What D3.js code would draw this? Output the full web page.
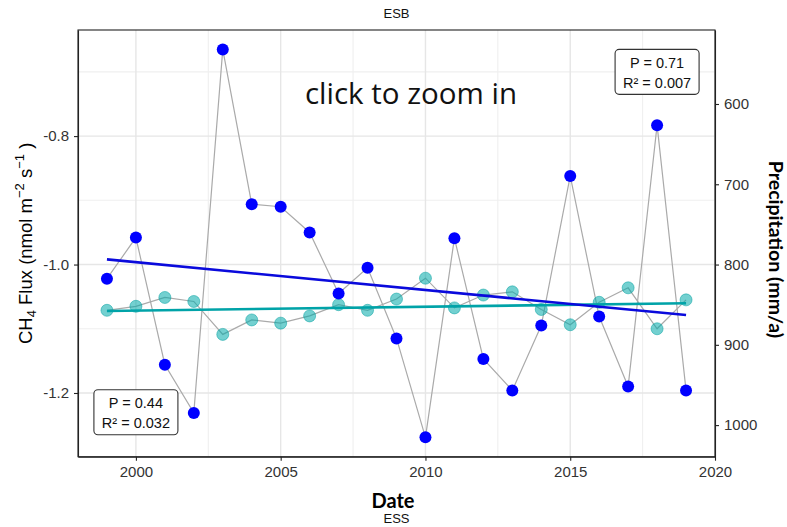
<!DOCTYPE html>
<html>
<head>
<meta charset="utf-8">
<script src="https://cdn.jsdelivr.net/npm/d3@7"></script>
<style>
  html, body { margin: 0; padding: 0; background: #fff; }
  svg { display: block; }
</style>
</head>
<body>
<svg id="chart" width="787" height="527"></svg>
<script>
// Annual series, 1999–2019
const years = [1999, 2000, 2001, 2002, 2003, 2004, 2005, 2006, 2007, 2008, 2009,
               2010, 2011, 2012, 2013, 2014, 2015, 2016, 2017, 2018, 2019];

// CH4 flux (nmol m-2 s-1), left axis
const fluxValues = [-1.022, -0.958, -1.156, -1.231, -0.665, -0.906, -0.910, -0.950, -1.045, -1.005, -1.115,
                    -1.269, -0.959, -1.147, -1.196, -1.095, -0.862, -1.081, -1.190, -0.783, -1.196];

// Precipitation (mm/a), right axis (reversed)
const precipValues = [857, 852, 841, 846, 887, 869, 873, 864, 850, 857, 843,
                      817, 854, 838, 834, 856, 875, 847, 829, 880, 844];

// Axis ticks and labels
const xTicks = [2000, 2005, 2010, 2015, 2020];
const xTickLabels = ["2000", "2005", "2010", "2015", "2020"];
const xMinorTicks = [2002.5, 2007.5, 2012.5, 2017.5];
const fluxTicks = [-0.8, -1.0, -1.2];
const fluxTickLabels = ["-0.8", "-1.0", "-1.2"];
const fluxMinorTicks = [-0.7, -0.9, -1.1];
const precipTicks = [600, 700, 800, 900, 1000];
const precipTickLabels = ["600", "700", "800", "900", "1000"];

// Regression statistics
const fluxStats = ["P = 0.44", "R\u00B2 = 0.032"];
const precipStats = ["P = 0.71", "R\u00B2 = 0.007"];
const fluxStatsAnchor = [2000, -1.23];
const precipStatsAnchor = [2018, -0.70];

// Precipitation shares the flux axis through a fixed linear factor
const precipFactor = -800;

const W = 787, H = 527;
const margin = { top: 30, right: 72, bottom: 70.3, left: 78 };
const svg = d3.select("#chart");

const x = d3.scaleLinear()
  .domain([1998, 2020])
  .range([margin.left, W - margin.right]);

const fExt = d3.extent(fluxValues);
const fPad = (fExt[1] - fExt[0]) * 0.05;
const yFlux = d3.scaleLinear()
  .domain([fExt[0] - fPad, fExt[1] + fPad])
  .range([H - margin.bottom, margin.top]);

const yPrecip = d3.scaleLinear()
  .domain(yFlux.domain().map(v => v * precipFactor))
  .range(yFlux.range());

const x0 = margin.left, x1 = W - margin.right;
const y0 = margin.top, y1 = H - margin.bottom;

// Grid
const grid = svg.append("g");
grid.selectAll("line.vmin").data(xMinorTicks).join("line")
  .attr("x1", d => x(d)).attr("x2", d => x(d)).attr("y1", y0).attr("y2", y1)
  .attr("stroke", "#EFEFEF").attr("stroke-width", 1.1);
grid.selectAll("line.hmin").data(fluxMinorTicks).join("line")
  .attr("x1", x0).attr("x2", x1).attr("y1", d => yFlux(d)).attr("y2", d => yFlux(d))
  .attr("stroke", "#EFEFEF").attr("stroke-width", 1.1);
grid.selectAll("line.vmaj").data(xTicks).join("line")
  .attr("x1", d => x(d)).attr("x2", d => x(d)).attr("y1", y0).attr("y2", y1)
  .attr("stroke", "#E6E6E6").attr("stroke-width", 1.4);
grid.selectAll("line.hmaj").data(fluxTicks).join("line")
  .attr("x1", x0).attr("x2", x1).attr("y1", d => yFlux(d)).attr("y2", d => yFlux(d))
  .attr("stroke", "#E6E6E6").attr("stroke-width", 1.4);

// Connecting lines
const fluxPts = years.map((yr, i) => [yr, fluxValues[i]]);
const precipPts = years.map((yr, i) => [yr, precipValues[i]]);

svg.append("path").datum(fluxPts)
  .attr("fill", "none").attr("stroke", "#AAAAAA").attr("stroke-width", 1.2)
  .attr("d", d3.line().x(d => x(d[0])).y(d => yFlux(d[1])));
svg.append("path").datum(precipPts)
  .attr("fill", "none").attr("stroke", "#AAAAAA").attr("stroke-width", 1.2)
  .attr("d", d3.line().x(d => x(d[0])).y(d => yPrecip(d[1])));

// Points
svg.append("g").selectAll("circle").data(precipPts).join("circle")
  .attr("cx", d => x(d[0])).attr("cy", d => yPrecip(d[1])).attr("r", 6)
  .attr("fill", "#00AAAA").attr("fill-opacity", 0.55)
  .attr("stroke", "#00A0A0").attr("stroke-opacity", 0.5).attr("stroke-width", 1);
svg.append("g").selectAll("circle").data(fluxPts).join("circle")
  .attr("cx", d => x(d[0])).attr("cy", d => yFlux(d[1])).attr("r", 6)
  .attr("fill", "#0000FF");

// Least-squares trend lines
function linFit(xs, ys) {
  const mx = d3.mean(xs), my = d3.mean(ys);
  let sxy = 0, sxx = 0;
  xs.forEach((v, i) => { sxy += (v - mx) * (ys[i] - my); sxx += (v - mx) ** 2; });
  const b = sxy / sxx;
  return v => my + b * (v - mx);
}
const xEnds = d3.extent(years);
const fFit = linFit(years, fluxValues);
const pFit = linFit(years, precipValues);

svg.append("line")
  .attr("x1", x(xEnds[0])).attr("x2", x(xEnds[1]))
  .attr("y1", yPrecip(pFit(xEnds[0]))).attr("y2", yPrecip(pFit(xEnds[1])))
  .attr("stroke", "#00A3A8").attr("stroke-width", 2.6);
svg.append("line")
  .attr("x1", x(xEnds[0])).attr("x2", x(xEnds[1]))
  .attr("y1", yFlux(fFit(xEnds[0]))).attr("y2", yFlux(fFit(xEnds[1])))
  .attr("stroke", "#0A0ADC").attr("stroke-width", 2.6);

// Panel border
svg.append("rect")
  .attr("x", x0).attr("y", y0).attr("width", x1 - x0).attr("height", y1 - y0)
  .attr("fill", "none").attr("stroke", "#222").attr("stroke-width", 1.1);

// Axes
const tickFont = "'Liberation Sans', Arial, sans-serif";
const bottom = svg.append("g").attr("transform", `translate(0,${y1})`)
  .call(d3.axisBottom(x).tickValues(xTicks).tickSize(4).tickSizeOuter(0).tickPadding(6)
    .tickFormat((d, i) => xTickLabels[i]));
const left = svg.append("g").attr("transform", `translate(${x0},0)`)
  .call(d3.axisLeft(yFlux).tickValues(fluxTicks).tickSize(4).tickSizeOuter(0).tickPadding(5)
    .tickFormat((d, i) => fluxTickLabels[i]));
const right = svg.append("g").attr("transform", `translate(${x1},0)`)
  .call(d3.axisRight(yPrecip).tickValues(precipTicks).tickSize(4).tickSizeOuter(0).tickPadding(5)
    .tickFormat((d, i) => precipTickLabels[i]));

[bottom, left, right].forEach(g => {
  g.select(".domain").attr("stroke", "#222").attr("stroke-width", 1.1);
  g.selectAll(".tick line").attr("stroke", "#222").attr("stroke-width", 1.1);
  g.selectAll(".tick text").attr("fill", "#333")
    .style("font-family", tickFont).style("font-size", "15px");
});

// Stats boxes
function statsBox(anchor, lines) {
  const cx = x(anchor[0]), cy = yFlux(anchor[1]);
  const g = svg.append("g");
  g.append("rect")
    .attr("x", cx - 42).attr("y", cy - 22.5).attr("width", 84).attr("height", 45)
    .attr("rx", 4).attr("fill", "#fff").attr("stroke", "#333").attr("stroke-width", 1.1);
  g.selectAll("text").data(lines).join("text")
    .attr("x", cx).attr("y", (d, i) => cy - 4.3 + i * 20.3)
    .attr("text-anchor", "middle")
    .style("font-family", tickFont).style("font-size", "14.5px").attr("fill", "#111")
    .text(d => d);
}
statsBox(fluxStatsAnchor, fluxStats);
statsBox(precipStatsAnchor, precipStats);

// Titles
svg.append("text")
  .attr("x", (x0 + x1) / 2).attr("y", 18.3).attr("text-anchor", "middle")
  .style("font-family", tickFont).style("font-size", "13px").attr("fill", "#111")
  .text("ESB");
svg.append("text")
  .attr("x", (x0 + x1) / 2).attr("y", 523).attr("text-anchor", "middle")
  .style("font-family", tickFont).style("font-size", "13px").attr("fill", "#111")
  .text("ESS");

svg.append("text")
  .attr("x", 393).attr("y", 508.3).attr("text-anchor", "middle")
  .style("font-family", "Lato, sans-serif").style("font-weight", 700).style("font-size", "20px")
  .attr("fill", "#000").text("Date");

// Left axis title with sub/superscripts
const lt = svg.append("text")
  .attr("transform", `translate(32,${(y0 + y1) / 2}) rotate(-90)`)
  .attr("text-anchor", "middle")
  .style("font-family", tickFont).style("font-size", "18.5px").attr("fill", "#000");
lt.append("tspan").text("CH");
lt.append("tspan").attr("dy", 4).style("font-size", "13px").text("4");
lt.append("tspan").attr("dy", -4).text(" Flux (nmol m");
lt.append("tspan").attr("dy", -8).style("font-size", "13px").text("\u22122");
lt.append("tspan").attr("dy", 8).text(" s");
lt.append("tspan").attr("dy", -8).style("font-size", "13px").text("\u22121");
lt.append("tspan").attr("dy", 8).text(" )");

svg.append("text")
  .attr("transform", `translate(769,249.5) rotate(90)`)
  .attr("text-anchor", "middle")
  .style("font-family", "Lato, sans-serif").style("font-weight", 700).style("font-size", "19.5px")
  .attr("fill", "#000").text("Precipitation (mm/a)");

// Overlay hint
svg.append("text")
  .attr("x", 411).attr("y", 104).attr("text-anchor", "middle")
  .style("font-family", "'Open Sans', sans-serif").style("font-size", "29.5px")
  .attr("fill", "#111").text("click to zoom in");
</script>
</body>
</html>
